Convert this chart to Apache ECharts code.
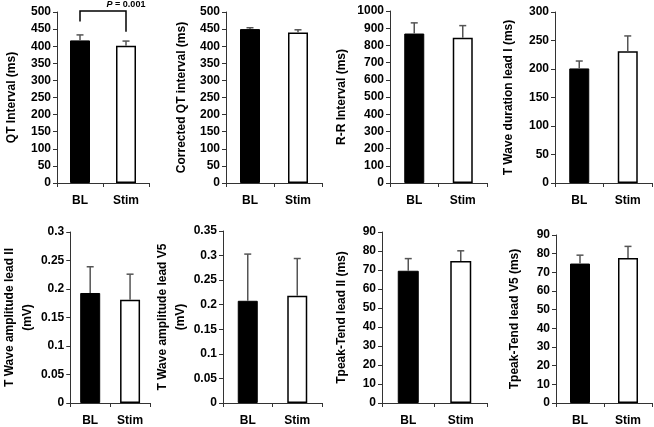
<!DOCTYPE html>
<html>
<head>
<meta charset="utf-8">
<script src="https://cdn.jsdelivr.net/npm/echarts@6/dist/echarts.min.js"></script>
<style>
html,body{margin:0;padding:0;background:#fff;}
#c{width:654px;height:427px;}
</style>
</head>
<body>
<div id="c"></div>
<script>
// ---- data ----
const categories = ['BL', 'Stim'];
const qtMean = [417, 401];
const qtErr = [16, 14];
const qtcMean = [450, 440];
const qtcErr = [4, 8];
const rrMean = [869, 844];
const rrErr = [62, 71];
const tdurMean = [201, 231];
const tdurErr = [13, 27];
const tampIIMean = [0.193, 0.181];
const tampIIErr = [0.046, 0.045];
const tampV5Mean = [0.208, 0.218];
const tampV5Err = [0.095, 0.076];
const tpteIIMean = [69.6, 74.8];
const tpteIIErr = [6.4, 5.3];
const tpteV5Mean = [74.7, 77.7];
const tpteV5Err = [4.5, 6.2];

const yTitles = [
  'QT Interval (ms)', 'Corrected QT interval (ms)', 'R-R Interval (ms)', 'T Wave duration lead I (ms)',
  'T Wave amplitude lead II\n(mV)', 'T Wave amplitude lead V5\n(mV)', 'Tpeak-Tend lead II (ms)', 'Tpeak-Tend lead V5 (ms)'
];
const yMax = [500, 500, 1000, 300, 0.3, 0.35, 90, 90];
const yStep = [50, 50, 100, 50, 0.05, 0.05, 10, 10];

// significance annotation on panel 1: [bracket top, left leg bottom, right leg bottom, label]
const pLabel = 'P = 0.001';
const pBracket = [503, 472, 442, 523];

// ---- layout ----
const means = [qtMean, qtcMean, rrMean, tdurMean, tampIIMean, tampV5Mean, tpteIIMean, tpteV5Mean];
const errs = [qtErr, qtcErr, rrErr, tdurErr, tampIIErr, tampV5Err, tpteIIErr, tpteV5Err];
const grids = [
  {left: 57, top: 12, width: 92, height: 171},
  {left: 226, top: 12, width: 96, height: 171},
  {left: 390, top: 11, width: 97, height: 172},
  {left: 555, top: 12, width: 97, height: 171},
  {left: 63, top: 232, width: 87, height: 173},
  {left: 223, top: 231, width: 99, height: 173},
  {left: 382, top: 232, width: 105, height: 174},
  {left: 556, top: 235, width: 96, height: 173}
];
const nameGaps = [36, 35, 39, 37, 27, 25, 31, 32];
const FONT = 'Liberation Sans, Arial, sans-serif';
const axisColor = '#333';

const xAxes = [], yAxes = [], series = [];
grids.forEach((g, i) => {
  xAxes.push({
    type: 'category', gridIndex: i, data: categories,
    axisLine: {lineStyle: {color: axisColor, width: 1}},
    axisTick: {show: true, alignWithLabel: false, length: 4, lineStyle: {color: axisColor}},
    axisLabel: {color: '#000', fontFamily: FONT, fontWeight: 'bold', fontSize: 12, margin: 12}
  });
  yAxes.push({
    type: 'value', gridIndex: i, min: 0, max: yMax[i], interval: yStep[i],
    name: yTitles[i], nameLocation: 'middle', nameRotate: 90, nameGap: nameGaps[i],
    nameTextStyle: {color: '#000', fontFamily: FONT, fontWeight: 'bold', fontSize: 12, lineHeight: 18},
    axisLine: {show: true, lineStyle: {color: axisColor, width: 1}},
    axisTick: {show: true, length: 4, lineStyle: {color: axisColor}},
    splitLine: {show: false},
    axisLabel: {
      color: '#000', fontFamily: FONT, fontWeight: 'bold', fontSize: 12, margin: 6,
      formatter: v => String(+v.toFixed(4))
    }
  });
  series.push({
    type: 'bar', xAxisIndex: i, yAxisIndex: i, barWidth: i === 6 ? 21 : 20,
    data: means[i].map((v, k) => ({
      value: v,
      itemStyle: k === 0 ? {color: '#000', borderColor: '#000', borderWidth: 1}
                         : {color: '#fff', borderColor: '#000', borderWidth: 1.5}
    })),
    silent: true, animation: false
  });
  series.push({
    type: 'custom', xAxisIndex: i, yAxisIndex: i, z: 5, clip: false,
    data: means[i].map((v, k) => [k, v, errs[i][k]]),
    renderItem: function (params, api) {
      const base = api.coord([api.value(0), api.value(1)]);
      const top = api.coord([api.value(0), api.value(1) + api.value(2)]);
      const st = {stroke: '#555', lineWidth: 1.5};
      return {
        type: 'group',
        children: [
          {type: 'line', shape: {x1: base[0], y1: base[1], x2: top[0], y2: top[1]}, style: st},
          {type: 'line', shape: {x1: top[0] - 3.5, y1: top[1], x2: top[0] + 3.5, y2: top[1]}, style: st}
        ]
      };
    },
    animation: false
  });
});

// significance bracket on panel 1
series.push({
  type: 'custom', xAxisIndex: 0, yAxisIndex: 0, z: 6, clip: false,
  data: [[0, 1]],
  renderItem: function (params, api) {
    const l0 = api.coord([0, pBracket[1]]);
    const lt = api.coord([0, pBracket[0]]);
    const rt = api.coord([1, pBracket[0]]);
    const r0 = api.coord([1, pBracket[2]]);
    const lab = api.coord([0.5, pBracket[3]]);
    return {
      type: 'group',
      children: [
        {type: 'polyline', shape: {points: [l0, lt, rt, r0]}, style: {stroke: '#000', lineWidth: 1.5, fill: null}},
        {type: 'text', x: lab[0], y: lab[1], style: {
          text: '{i|P} = 0.001', align: 'center', verticalAlign: 'middle',
          rich: {i: {fontStyle: 'italic', fontWeight: 'bold', fontSize: 9, fontFamily: FONT, fill: '#000'}},
          font: 'bold 9px ' + FONT, fill: '#000'
        }}
      ]
    };
  },
  animation: false
});

const chart = echarts.init(document.getElementById('c'), null, {renderer: 'canvas'});
chart.setOption({
  animation: false,
  backgroundColor: '#fff',
  grid: grids.map(g => Object.assign({containLabel: false}, g)),
  xAxis: xAxes,
  yAxis: yAxes,
  series: series
});
</script>
</body>
</html>
